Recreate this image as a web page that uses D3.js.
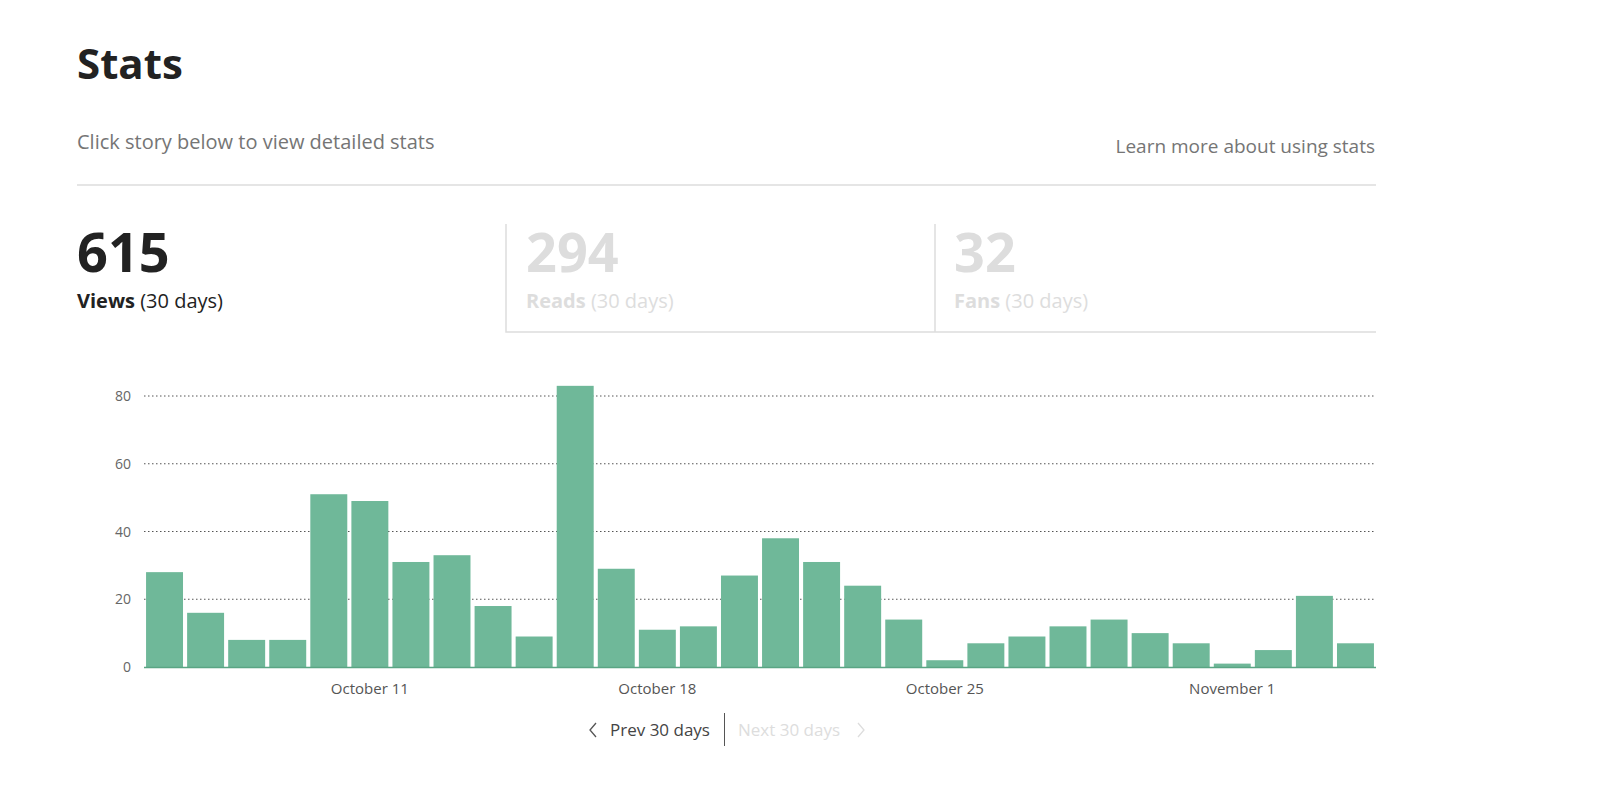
<!DOCTYPE html>
<html><head><meta charset="utf-8">
<script src="https://cdn.jsdelivr.net/npm/d3@7"></script>
<style>
body{margin:0;background:#fff;font-family:"Open Sans","Noto Sans",sans-serif;}
</style></head><body>
<svg id="c" width="1600" height="799"></svg>
<script>
const values=[28,16,8,8,51,49,31,33,18,9,83,29,11,12,27,38,31,24,14,2,7,9,12,14,10,7,1,5,21,7];
const startDate=new Date(2017,9,6);
const dates=values.map((v,i)=>new Date(startDate.getFullYear(),startDate.getMonth(),startDate.getDate()+i));
const yTicks=[0,20,40,60,80];
const tickDays=[5,12,19,26];
const summary=[{n:"615",label:"Views",on:true},{n:"294",label:"Reads",on:false},{n:"32",label:"Fans",on:false}];

const svg=d3.select("#c");
svg.append("text").attr("x",77).attr("y",79).attr("font-size",42).attr("font-weight",700).attr("fill","#222").text("Stats");
svg.append("text").attr("x",77).attr("y",149).attr("font-size",20).attr("fill","#757575").text("Click story below to view detailed stats");
svg.append("text").attr("x",1375).attr("y",153).attr("text-anchor","end").attr("font-size",19).attr("fill","#757575").text("Learn more about using stats");
svg.append("line").attr("x1",77).attr("x2",1376).attr("y1",185).attr("y2",185).attr("stroke","#ddd").attr("stroke-width",1.5);
const px=[77,526,954];
summary.forEach((s,i)=>{
  const c=s.on?"#222":"#ddd";
  svg.append("text").attr("x",px[i]).attr("y",272).attr("font-size",54).attr("font-weight",700).attr("fill",c).text(s.n);
  const t=svg.append("text").attr("x",px[i]).attr("y",308).attr("font-size",20).attr("fill",c);
  t.append("tspan").attr("font-weight",700).text(s.label);
  t.append("tspan").text(" (30 days)");
});
svg.append("path").attr("d","M506,224V332H1376M935,224V332").attr("fill","none").attr("stroke","#ddd").attr("stroke-width",1.5);

const x=d3.scaleBand().domain(d3.range(values.length)).range([144,1376]).paddingInner(0.1).paddingOuter(0.05);
const y=d3.scaleLinear().domain([0,80]).range([667,396]);
const g=svg.append("g");
yTicks.forEach(t=>{
  if(t>0) g.append("line").attr("x1",144).attr("x2",1376).attr("y1",y(t)).attr("y2",y(t)).attr("stroke","#555").attr("stroke-dasharray","1.5,2.5").attr("stroke-width",1);
  g.append("text").attr("x",131).attr("y",y(t)+5).attr("text-anchor","end").attr("font-size",14).attr("fill","#666").text(t);
});
g.selectAll("rect").data(values).join("rect")
 .attr("x",(d,i)=>x(i)).attr("width",x.bandwidth()).attr("y",d=>y(d)).attr("height",d=>y(0)-y(d)).attr("fill","#6fb899");
g.append("line").attr("x1",144).attr("x2",1376).attr("y1",667.5).attr("y2",667.5).attr("stroke","#5aa584").attr("stroke-width",1.5);
const fmt=d3.timeFormat("%B %-d");
tickDays.forEach(i=>{
  g.append("text").attr("x",x(i)+x.bandwidth()/2).attr("y",694).attr("text-anchor","middle").attr("font-size",15).attr("fill","#555").text(fmt(dates[i]));
});
svg.append("path").attr("d","M596,723l-6,7l6,7").attr("fill","none").attr("stroke","#555").attr("stroke-width",1.3);
svg.append("text").attr("x",610).attr("y",736).attr("font-size",17).attr("fill","#444").text("Prev 30 days");
svg.append("line").attr("x1",724.5).attr("x2",724.5).attr("y1",713).attr("y2",746).attr("stroke","#555");
svg.append("text").attr("x",738).attr("y",736).attr("font-size",17).attr("fill","#ddd").text("Next 30 days");
svg.append("path").attr("d","M858,723l6,7l-6,7").attr("fill","none").attr("stroke","#ddd").attr("stroke-width",1.3);
</script></body></html>
